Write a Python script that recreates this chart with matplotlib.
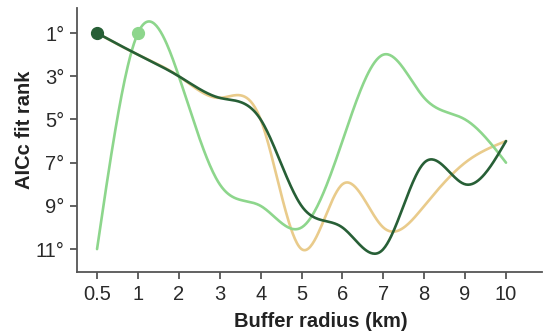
import numpy as np
import matplotlib
matplotlib.use("Agg")
import matplotlib.pyplot as plt

plt.rcParams['font.family'] = ['Liberation Sans', 'DejaVu Sans']

radius_labels = ["0.5", "1", "2", "3", "4", "5", "6", "7", "8", "9", "10"]
rank_light = [11, 1, 3, 8, 9, 10, 6, 2, 4, 5, 7]
rank_tan = [1, 2, 3, 4, 5, 11, 8, 10, 9, 7, 6]
rank_dark = [1, 2, 3, 4, 5, 9, 10, 11, 7, 8, 6]
y_ticks = [1, 3, 5, 7, 9, 11]
y_tick_labels = ["1°", "3°", "5°", "7°", "9°", "11°"]

c_light = "#8dd68c"
c_tan = "#e9cb8b"
c_dark = "#275f36"


def natural_spline(x, y, n=400):
    x = np.asarray(x, float)
    y = np.asarray(y, float)
    k = len(x)
    h = np.diff(x)
    A = np.zeros((k, k))
    b = np.zeros(k)
    A[0, 0] = 1
    A[-1, -1] = 1
    for i in range(1, k - 1):
        A[i, i - 1] = h[i - 1]
        A[i, i] = 2 * (h[i - 1] + h[i])
        A[i, i + 1] = h[i]
        b[i] = 6 * ((y[i + 1] - y[i]) / h[i] - (y[i] - y[i - 1]) / h[i - 1])
    M = np.linalg.solve(A, b)
    xs = np.linspace(x[0], x[-1], n)
    ys = np.empty_like(xs)
    for j, xv in enumerate(xs):
        i = min(np.searchsorted(x, xv, side='right') - 1, k - 2)
        t1 = x[i + 1] - xv
        t0 = xv - x[i]
        hi = h[i]
        ys[j] = (M[i] * t1 ** 3 / (6 * hi) + M[i + 1] * t0 ** 3 / (6 * hi)
                 + (y[i] / hi - M[i] * hi / 6) * t1
                 + (y[i + 1] / hi - M[i + 1] * hi / 6) * t0)
    return xs, ys


fig = plt.figure(figsize=(5.43, 3.34), dpi=100)
ax = fig.add_axes([77 / 543, 1 - 272 / 334, (542 - 77) / 543, (272 - 8) / 334])

pos = np.arange(len(radius_labels))
for vals, col in [(rank_tan, c_tan), (rank_light, c_light), (rank_dark, c_dark)]:
    xs, ys = natural_spline(pos, vals)
    ax.plot(xs, ys, color=col, lw=1.9, solid_capstyle='round', zorder=2)

ax.plot(pos[1], rank_light[1], 'o', color=c_light, ms=8.5, zorder=3)
ax.plot(pos[0], rank_dark[0], 'o', color=c_dark, ms=8.5, zorder=4)

ax.set_xlim(-0.49, 10.88)
ax.set_ylim(12.06, -0.16)
ax.set_xticks(pos)
ax.set_xticklabels(radius_labels)
ax.set_yticks(y_ticks)
ax.set_yticklabels(y_tick_labels)

for s in ['top', 'right']:
    ax.spines[s].set_visible(False)
for s in ['left', 'bottom']:
    ax.spines[s].set_color('#555555')
    ax.spines[s].set_linewidth(1.3)
ax.tick_params(axis='both', colors='#555555', width=1.3, length=5,
               labelsize=14.5, labelcolor='#2a2a2a')
ax.tick_params(axis='x', pad=4)
ax.tick_params(axis='y', pad=4)

ax.set_xlabel("Buffer radius (km)", fontsize=14.5, fontweight='bold', color='#222222')
ax.set_ylabel("AICc fit rank", fontsize=14.5, fontweight='bold', color='#222222')
ax.xaxis.set_label_coords(0.525, -0.15)
ax.yaxis.set_label_coords(-0.092, 0.54)

fig.savefig("out.png", dpi=100)
